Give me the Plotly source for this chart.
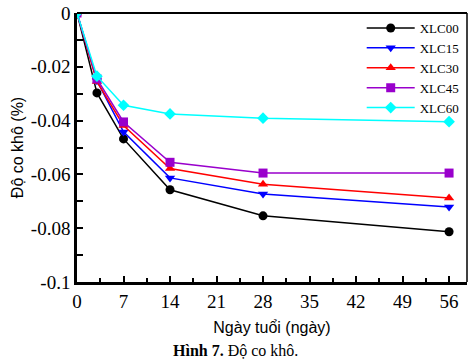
import plotly.graph_objects as go

days = [0, 3, 7, 14, 28, 56]
xlc00 = [0, -0.0297, -0.0468, -0.0657, -0.0754, -0.0813]
xlc15 = [0, -0.0252, -0.0442, -0.0613, -0.0673, -0.0721]
xlc30 = [0, -0.0255, -0.0418, -0.0578, -0.0637, -0.0688]
xlc45 = [0, -0.0245, -0.0405, -0.0555, -0.0595, -0.0595]
xlc60 = [0, -0.0235, -0.0343, -0.0375, -0.0391, -0.0404]

series = [
    ("XLC00", xlc00, "#000000", "circle"),
    ("XLC15", xlc15, "#0000FF", "triangle-down"),
    ("XLC30", xlc30, "#FF0000", "triangle-up"),
    ("XLC45", xlc45, "#9900CC", "square"),
    ("XLC60", xlc60, "#00FFFF", "diamond"),
]

x_ticks = [0, 7, 14, 21, 28, 35, 42, 49, 56]
y_ticks = [0, -0.02, -0.04, -0.06, -0.08, -0.1]
y_ticktext = ["0", "-0.02", "-0.04", "-0.06", "-0.08", "-0.1"]

serif = "Liberation Serif, Times New Roman, serif"
sans = "Liberation Sans, Arial, sans-serif"

fig = go.Figure()
for name, vals, color, sym in series:
    fig.add_trace(go.Scatter(
        x=days, y=vals, name=name, mode="lines+markers",
        line=dict(color=color, width=1.5),
        marker=dict(symbol=sym, size=9, color=color),
    ))

fig.update_layout(
    width=473, height=364,
    margin=dict(l=77, r=6, t=13, b=82),
    paper_bgcolor="white", plot_bgcolor="white",
    showlegend=True,
    legend=dict(
        x=0.73, y=1.0, xanchor="left", yanchor="top",
        bgcolor="rgba(0,0,0,0)", borderwidth=0,
        font=dict(family=serif, size=13, color="black"),
        itemwidth=48, tracegroupgap=0,
    ),
    annotations=[dict(
        text="<b>Hình 7.</b> Độ co khô.", xref="paper", yref="paper",
        x=(235 - 77) / 390, y=-(350 - 282) / 269, xanchor="center", yanchor="middle",
        showarrow=False, font=dict(family=serif, size=16, color="black"),
    )],
    shapes=[
        dict(type="line", xref="paper", yref="paper", x0=0, x1=1, y0=1, y1=1,
             line=dict(color="black", width=2)),
        dict(type="line", xref="paper", yref="paper", x0=1, x1=1, y0=0, y1=1,
             line=dict(color="black", width=1.5)),
    ],
)

fig.update_xaxes(
    range=[0, 58.7], tickvals=x_ticks, ticktext=[str(v) for v in x_ticks],
    ticks="inside", ticklen=6, tickwidth=1.5, tickcolor="black",
    minor=dict(dtick=3.5, tick0=0, ticks="inside", ticklen=4, tickwidth=1.5, tickcolor="black"),
    showline=True, linecolor="black", linewidth=2.5, mirror=False,
    showgrid=False, zeroline=False, automargin=False,
    tickfont=dict(family=serif, size=19, color="black"),
    title=dict(text="Ngày tuổi (ngày)", font=dict(family=sans, size=16, color="black"), standoff=12),
)
fig.update_yaxes(
    range=[-0.1, 0], tickvals=y_ticks, ticktext=y_ticktext,
    ticks="inside", ticklen=6, tickwidth=1.5, tickcolor="black",
    minor=dict(dtick=0.01, tick0=0, ticks="inside", ticklen=6, tickwidth=1.5, tickcolor="black"),
    showline=True, linecolor="black", linewidth=2.5, mirror=False,
    showgrid=False, zeroline=False, automargin=False,
    tickfont=dict(family=serif, size=19, color="black"),
    title=dict(text="Độ co khô (%)", font=dict(family=sans, size=16, color="black"), standoff=4),
)

fig.write_html("out.html", config={"displayModeBar": False},
               post_script="document.body.style.margin='0px';")
